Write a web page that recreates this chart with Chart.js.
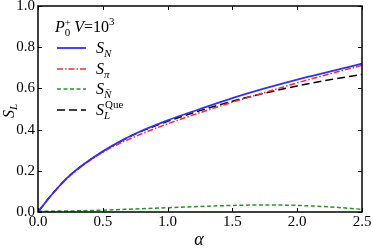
<!DOCTYPE html>
<html><head><meta charset="utf-8">
<script src="https://cdn.jsdelivr.net/npm/chart.js@4"></script>
<style>html,body{margin:0;padding:0;background:#fff}#wrap{width:373px;height:251px}
.pre{font-family:"Liberation Serif";position:absolute;left:-999px}</style>
</head><body><span class="pre">a<i>b</i>0.5</span><div id="wrap"><canvas id="c" width="373" height="251"></canvas></div>
<script>
const alpha = [0, 0.1, 0.25, 0.5, 0.75, 1.0, 1.25, 1.5, 1.75, 2.0, 2.25, 2.5];
const sN    = [0, 0.08, 0.18, 0.295, 0.38, 0.445, 0.50, 0.553, 0.60, 0.643, 0.682, 0.72];
const sPi   = [0, 0.079, 0.177, 0.29, 0.366, 0.428, 0.482, 0.533, 0.58, 0.627, 0.67, 0.712];
const sNbar = [0.003, 0.004, 0.005, 0.009, 0.015, 0.021, 0.027, 0.032, 0.034, 0.032, 0.025, 0.013];
const sQue  = [0, 0.08, 0.18, 0.293, 0.378, 0.44, 0.492, 0.538, 0.577, 0.612, 0.642, 0.668];
const xTicks = [0, 0.5, 1.0, 1.5, 2.0, 2.5];
const yTicks = [0, 0.2, 0.4, 0.6, 0.8, 1.0];
const xTickLabels = ['0.0', '0.5', '1.0', '1.5', '2.0', '2.5'];
const yTickLabels = ['0.0', '0.2', '0.4', '0.6', '0.8', '1.0'];

const SERIF = '"Liberation Serif", "Times New Roman", "DejaVu Serif", serif';
Chart.defaults.font.family = SERIF;
const pts = arr => arr.map((v, i) => ({x: alpha[i], y: v}));

function seq(ctx, x, y, parts) {
  parts.forEach(p => {
    ctx.font = p.f + ' ' + SERIF;
    ctx.fillText(p.t, x + (p.dx || 0), y + (p.dy || 0));
    x += ctx.measureText(p.t).width + (p.dx || 0);
  });
  return x;
}

const frame = {
  id: 'frame',
  afterDraw(chart) {
    const {ctx, chartArea: a, scales: {x, y}} = chart;
    ctx.save();
    ctx.strokeStyle = '#000';
    ctx.lineWidth = 1.5;
    ctx.strokeRect(a.left, a.top, a.right - a.left, a.bottom - a.top);
    ctx.lineWidth = 1;
    const L = 4;
    ctx.beginPath();
    xTicks.forEach(t => {
      const px = Math.round(x.getPixelForValue(t)) + 0.5;
      ctx.moveTo(px, a.bottom); ctx.lineTo(px, a.bottom - L);
      ctx.moveTo(px, a.top); ctx.lineTo(px, a.top + L);
    });
    yTicks.forEach(t => {
      const py = Math.round(y.getPixelForValue(t)) + 0.5;
      ctx.moveTo(a.left, py); ctx.lineTo(a.left + L, py);
      ctx.moveTo(a.right, py); ctx.lineTo(a.right - L, py);
    });
    ctx.stroke();

    ctx.fillStyle = '#000';
    // tick labels
    ctx.font = '15px ' + SERIF;
    ctx.textAlign = 'center'; ctx.textBaseline = 'top';
    xTicks.forEach((t, i) => ctx.fillText(xTickLabels[i], x.getPixelForValue(t), a.bottom + 3));
    ctx.textAlign = 'right'; ctx.textBaseline = 'middle';
    yTicks.forEach((t, i) => ctx.fillText(yTickLabels[i], a.left - 3, y.getPixelForValue(t)));

    ctx.font = 'italic 18px ' + SERIF;
    ctx.textAlign = 'center'; ctx.textBaseline = 'middle';
    ctx.fillText('α', 199, 240);
    ctx.save();
    ctx.translate(14, 110);
    ctx.rotate(-Math.PI / 2);
    ctx.textAlign = 'left'; ctx.textBaseline = 'alphabetic';
    seq(ctx, -8, 0, [{t: 'S', f: 'italic 16px'}, {t: 'L', f: 'italic 11px', dy: 3}]);
    ctx.restore();

    ctx.textAlign = 'left'; ctx.textBaseline = 'alphabetic';
    const ty = 32;
    let tx = seq(ctx, 55, ty, [{t: 'P', f: 'italic 16px'}]);
    ctx.font = '11px ' + SERIF; ctx.fillText('+', tx, ty - 6);
    seq(ctx, tx, ty, [{t: '0', f: '11px', dy: 4}, {t: '  ', f: '8px'}, {t: 'V', f: 'italic 16px'},
                      {t: '=10', f: '16px'}, {t: '3', f: '11px', dy: -7}]);

    const entries = [
      {c: '#2f2fff', d: [], w: 1.8, y: 48, sub: 'N'},
      {c: '#ff2a2a', d: [6, 2, 1.5, 2], w: 1.5, y: 69, sub: 'π'},
      {c: '#1f9a1f', d: [4, 2.5], w: 1.5, y: 89, sub: 'N̄'},
      {c: '#000', d: [8, 4], w: 1.5, y: 110, sub: 'L', sup: 'Que'}
    ];
    entries.forEach(e => {
      ctx.save();
      ctx.strokeStyle = e.c; ctx.lineWidth = e.w; ctx.setLineDash(e.d);
      ctx.beginPath(); ctx.moveTo(57, e.y); ctx.lineTo(86, e.y); ctx.stroke();
      ctx.restore();
      ctx.fillStyle = '#000';
      const sx = seq(ctx, 96, e.y + 5, [{t: 'S', f: 'italic 16px'}]);
      ctx.font = 'italic 11px ' + SERIF; ctx.fillText(e.sub, sx, e.y + 9);
      if (e.sup) { ctx.font = '11px ' + SERIF; ctx.fillText(e.sup, sx + 1, e.y - 2); }
    });
    ctx.restore();
  }
};

function make() {
  new Chart(document.getElementById('c'), {
    type: 'line',
    data: {
      datasets: [
        {label: 'S_N', data: pts(sN), borderColor: '#2f2fff', borderWidth: 1.8},
        {label: 'S_pi', data: pts(sPi), borderColor: '#ff2a2a', borderWidth: 1.5, borderDash: [6, 2, 1.5, 2]},
        {label: 'S_Nbar', data: pts(sNbar), borderColor: '#1f9a1f', borderWidth: 1.5, borderDash: [4, 2.5]},
        {label: 'S_L^Que', data: pts(sQue), borderColor: '#000', borderWidth: 1.5, borderDash: [8, 4]}
      ]
    },
    options: {
      responsive: false,
      animation: false,
      devicePixelRatio: 1,
      elements: {point: {radius: 0}, line: {cubicInterpolationMode: 'monotone', fill: false}},
      layout: {padding: {top: 6, right: 11, left: 0, bottom: 0}},
      plugins: {legend: {display: false}, tooltip: {enabled: false}},
      scales: {
        x: {
          type: 'linear', min: 0, max: 2.5,
          grid: {display: false}, border: {display: false},
          afterBuildTicks: s => { s.ticks = xTicks.map(v => ({value: v})); },
          afterFit: s => { s.height = 39; },
          ticks: {display: false}
        },
        y: {
          min: 0, max: 1.0,
          grid: {display: false}, border: {display: false},
          afterBuildTicks: s => { s.ticks = yTicks.map(v => ({value: v})); },
          afterFit: s => { s.width = 38; },
          ticks: {display: false}
        }
      }
    },
    plugins: [frame]
  });
}
Promise.all([
  document.fonts.load('15px "Liberation Serif"'),
  document.fonts.load('italic 15px "Liberation Serif"')
]).then(make, make);
</script></body></html>
